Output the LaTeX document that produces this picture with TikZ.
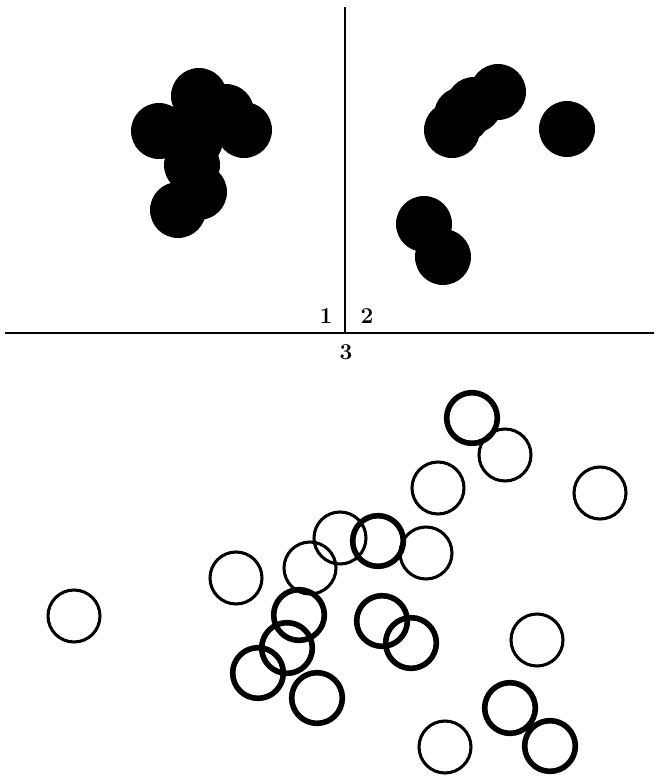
\documentclass[tikz,border=0pt]{standalone}
\begin{document}
\begin{tikzpicture}[x=0.75pt,y=-0.75pt,
  blob/.style={circle,fill=black,inner sep=0pt,minimum size=42pt},
  ring/.style={circle,draw=black,line width=2.3pt,inner sep=0pt,minimum size=39pt},
  thickring/.style={circle,draw=black,line width=4.2pt,inner sep=0pt,minimum size=38pt},
  axis/.style={line width=1.9pt},
  lbl/.style={font=\fontsize{17}{19}\selectfont\bfseries,inner sep=0pt}]
\useasboundingbox (0,0) rectangle (656,781);
% axes
\coordinate (vt) at (345,7);
\coordinate (vb) at (345,333);
\coordinate (hl) at (5,333);
\coordinate (hr) at (654,333);
\draw[axis] (vt) -- (vb);
\draw[axis] (hl) -- (hr);
\node[lbl] (l1) at (326,316) {1};
\node[lbl] (l2) at (367,316) {2};
\node[lbl] (l3) at (346,352) {3};
% left cluster (filled)
\node[blob] (a1) at (199,96) {};
\node[blob] (a2) at (226,112) {};
\node[blob] (a3) at (244,130) {};
\node[blob] (a4) at (159,131) {};
\node[blob] (a5) at (195,140) {};
\node[blob] (a6) at (192,165) {};
\node[blob] (a7) at (199,192) {};
\node[blob] (a8) at (178,210) {};
% right cluster (filled)
\node[blob] (b1) at (498,92) {};
\node[blob] (b2) at (474,105) {};
\node[blob] (b3) at (462,115) {};
\node[blob] (b4) at (452,130) {};
\node[blob] (b5) at (567,129) {};
\node[blob] (b6) at (424,224) {};
\node[blob] (b7) at (443,257) {};
% lower field: thin rings
\node[ring] (c1) at (74,616) {};
\node[ring] (c2) at (236,578) {};
\node[ring] (c3) at (310,568) {};
\node[ring] (c4) at (340,538) {};
\node[ring] (c5) at (426,553) {};
\node[ring] (c6) at (438,488) {};
\node[ring] (c7) at (505,455) {};
\node[ring] (c8) at (600,493) {};
\node[ring] (c9) at (537,640) {};
\node[ring] (c10) at (445,747) {};
% lower field: thick rings
\node[thickring] (d1) at (472,418) {};
\node[thickring] (d2) at (378,541) {};
\node[thickring] (d3) at (299,615) {};
\node[thickring] (d4) at (287,648) {};
\node[thickring] (d5) at (258,673) {};
\node[thickring] (d6) at (317,698) {};
\node[thickring] (d7) at (382,621) {};
\node[thickring] (d8) at (411,643) {};
\node[thickring] (d9) at (510,708) {};
\node[thickring] (d10) at (550,746) {};
\end{tikzpicture}
\end{document}
